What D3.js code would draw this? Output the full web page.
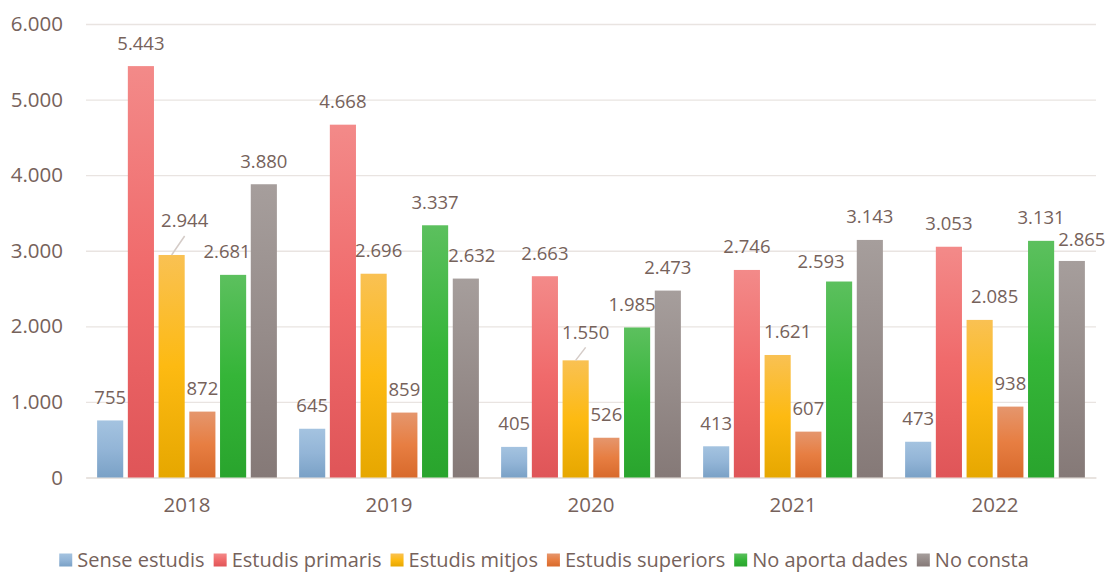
<!DOCTYPE html>
<meta charset="utf-8">
<head>
<style>
  body { margin: 0; background: #fff; }
  text { font-family: "Open Sans", "Noto Sans", sans-serif; fill: #76625b; }
</style>
</head>
<body>
<svg width="1109" height="572"></svg>

<script src="https://d3js.org/d3.v7.min.js"></script>
<script>
// values
var years = ["2018", "2019", "2020", "2021", "2022"];
var seriesNames = ["Sense estudis", "Estudis primaris", "Estudis mitjos", "Estudis superiors", "No aporta dades", "No consta"];
var senseEstudis     = [755, 645, 405, 413, 473];
var estudisPrimaris  = [5443, 4668, 2663, 2746, 3053];
var estudisMitjos    = [2944, 2696, 1550, 1621, 2085];
var estudisSuperiors = [872, 859, 526, 607, 938];
var noAportaDades    = [2681, 3337, 1985, 2593, 3131];
var noConsta         = [3880, 2632, 2473, 3143, 2865];
var yTicks = [0, 1000, 2000, 3000, 4000, 5000, 6000];

var seriesValues = [senseEstudis, estudisPrimaris, estudisMitjos, estudisSuperiors, noAportaDades, noConsta];

// gradient stops per series (top, middle, bottom)
var colors = [
  ["#a4c3e0", "#93b5d7", "#7aa1c6"],
  ["#f38a89", "#f06a6b", "#df5558"],
  ["#f9c153", "#fdba12", "#e6a700"],
  ["#e5966d", "#e77e42", "#d86a2c"],
  ["#5cc05e", "#35b538", "#29a42d"],
  ["#a69e9c", "#968c8a", "#857977"]
];

// labels that were moved by hand in the original (series index, year index)
var nudge = {
  "2|0": {dx: 13, dy: -11, leader: true},
  "4|0": {dx: -6, dy: 0},
  "2|1": {dx: 5, dy: 0},
  "5|1": {dx: 6, dy: 0},
  "2|2": {dx: 10, dy: -5, leader: true},
  "4|2": {dx: -5, dy: 0},
  "2|3": {dx: 10, dy: 0},
  "4|3": {dx: -18, dy: 3},
  "2|4": {dx: 15, dy: 0},
  "5|4": {dx: 10, dy: 2}
};

var fmt = d3.formatLocale({decimal: ",", thousands: ".", grouping: [3], currency: ["", "€"]}).format(",");

var svg = d3.select("svg"),
    plotLeft = 86, plotRight = 1096, plotTop = 24, plotBottom = 477.5;

var x0 = d3.scaleBand().domain(years).range([plotLeft, plotRight]).paddingInner(0.11).paddingOuter(0.055),
    x1 = d3.scaleBand().domain(d3.range(seriesNames.length)).range([0, x0.bandwidth()]).paddingInner(0.15).paddingOuter(0),
    y = d3.scaleLinear().domain([0, 6000]).range([plotBottom, plotTop]);

var defs = svg.append("defs");
colors.forEach(function(c, i) {
  var gr = defs.append("linearGradient").attr("id", "g" + i)
      .attr("x1", 0).attr("y1", 0).attr("x2", 0).attr("y2", 1);
  gr.append("stop").attr("offset", "0%").attr("stop-color", c[0]);
  gr.append("stop").attr("offset", "50%").attr("stop-color", c[1]);
  gr.append("stop").attr("offset", "100%").attr("stop-color", c[2]);
});

// gridlines + y labels
var yAxis = svg.append("g")
    .attr("transform", "translate(" + plotLeft + ",0)")
    .call(d3.axisLeft(y).tickValues(yTicks).tickSize(-(plotRight - plotLeft)).tickPadding(23).tickFormat(fmt));
yAxis.select(".domain").remove();
yAxis.selectAll(".tick line").attr("stroke", "#e9e4e1").attr("stroke-width", 1.3);
yAxis.selectAll(".tick text").style("font-size", "20.5px").attr("fill", "#76625b");

// x labels
var xAxis = svg.append("g")
    .attr("transform", "translate(0," + plotBottom + ")")
    .call(d3.axisBottom(x0).tickSize(0).tickPadding(20));
xAxis.select(".domain").attr("stroke", "#e6e0dd").attr("stroke-width", 1.3);
xAxis.selectAll(".tick text").style("font-size", "20.5px").attr("fill", "#76625b");

// bars
var groups = svg.append("g").selectAll("g")
    .data(years)
    .join("g")
    .attr("transform", function(d) { return "translate(" + x0(d) + ",0)"; });

groups.selectAll("rect")
    .data(function(d, j) { return seriesValues.map(function(v, i) { return {s: i, j: j, v: v[j]}; }); })
    .join("rect")
    .attr("x", function(d) { return x1(d.s); })
    .attr("width", x1.bandwidth())
    .attr("y", function(d) { return y(d.v); })
    .attr("height", function(d) { return plotBottom - y(d.v); })
    .attr("fill", function(d) { return "url(#g" + d.s + ")"; });

// data labels
groups.each(function(yr, j) {
  var g = d3.select(this);
  seriesValues.forEach(function(v, i) {
    var n = nudge[i + "|" + j] || {dx: 0, dy: 0};
    var bx = x1(i) + x1.bandwidth() / 2,
        by = y(v[j]),
        lx = bx + n.dx,
        ly = by - 23 + n.dy;
    if (n.leader) {
      g.append("line")
          .attr("x1", lx).attr("y1", ly + 15)
          .attr("x2", bx).attr("y2", by)
          .attr("stroke", "#d4cbc7").attr("stroke-width", 1.5);
    }
    g.append("text")
        .attr("x", lx).attr("y", ly).attr("dy", "0.35em")
        .attr("text-anchor", "middle")
        .style("font-size", "18.5px")
        .text(fmt(v[j]));
  });
});

// legend
var legend = svg.append("g");
var lx = 0;
seriesNames.forEach(function(name, i) {
  var item = legend.append("g").attr("transform", "translate(" + lx + ",0)");
  item.append("rect").attr("x", 0).attr("y", -6.5).attr("width", 13).attr("height", 13)
      .attr("fill", "url(#g" + i + ")");
  var t = item.append("text").attr("x", 18).attr("dy", "0.35em")
      .style("font-size", "20px").text(name);
  lx += 18 + t.node().getComputedTextLength() + 9;
});
var legendW = lx - 9;
legend.attr("transform", "translate(" + (544 - legendW / 2) + ",560)");
</script>
</body>
